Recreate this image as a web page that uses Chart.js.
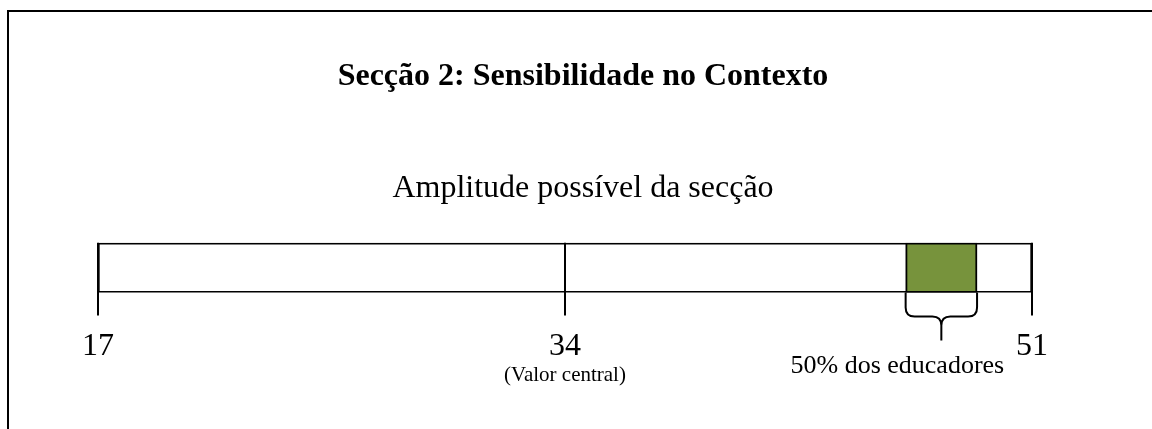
<!DOCTYPE html>
<html lang="pt">
<head>
    <meta charset="UTF-8">
    <title>Secção 2: Sensibilidade no Contexto</title>
    <script src="https://cdn.jsdelivr.net/npm/chart.js"></script>
    <style>
        html, body { margin: 0; padding: 0; background: #fff; overflow: hidden; }
        #frame {
            position: absolute; left: 7px; top: 10px; width: 2000px; height: 1000px;
            border-left: 2px solid #000; border-top: 2px solid #000;
        }
        #wrap { position: absolute; left: 0; top: 0; width: 1152px; height: 429px; }
    </style>
</head>
<body>
    <div id="frame"></div>
    <div id="wrap">
        <canvas id="myChart" width="1152" height="429"></canvas>
    </div>
    <script>
        // valores da escala
        const tickValues = [17, 34, 51];
        const rangeMin = 17;
        const rangeMax = 51;
        const centralValue = 34;
        const fullRange = [17, 51];
        const educatorsRange = [46.4, 49];   // 50% dos educadores

        const serif = "'Liberation Serif', 'Times New Roman', serif";

        // texto extra + chaveta por baixo da caixa verde
        const annotations = {
            id: 'annotations',
            afterDraw(chart) {
                const ctx = chart.ctx;
                const xs = chart.scales.x;
                const bar = chart.getDatasetMeta(1).data[0];
                const xL = Math.min(bar.x, bar.base);
                const xR = Math.max(bar.x, bar.base);
                const xM = (xL + xR) / 2;
                const yB = bar.y + bar.height / 2;
                const yH = yB + 24;
                const tip = yB + 48;
                const r = 9;

                ctx.save();
                ctx.strokeStyle = '#000';
                ctx.lineWidth = 2;
                ctx.beginPath();
                ctx.moveTo(xL, yB);
                ctx.lineTo(xL, yH - r);
                ctx.quadraticCurveTo(xL, yH, xL + r, yH);
                ctx.lineTo(xM - r, yH);
                ctx.quadraticCurveTo(xM, yH, xM, yH + r);
                ctx.lineTo(xM, tip);
                ctx.moveTo(xR, yB);
                ctx.lineTo(xR, yH - r);
                ctx.quadraticCurveTo(xR, yH, xR - r, yH);
                ctx.lineTo(xM + r, yH);
                ctx.quadraticCurveTo(xM, yH, xM, yH + r);
                ctx.stroke();

                ctx.fillStyle = '#000';
                ctx.textAlign = 'center';
                ctx.textBaseline = 'alphabetic';
                ctx.font = '21px ' + serif;
                ctx.fillText('(Valor central)', xs.getPixelForValue(centralValue), 381);
                ctx.font = '26px ' + serif;
                ctx.fillText('50% dos educadores', xM - 44, 373);
                ctx.restore();
            }
        };

        const ctx = document.getElementById('myChart').getContext('2d');
        const myChart = new Chart(ctx, {
            type: 'bar',
            data: {
                labels: ['Amplitude'],
                datasets: [
                    { label: 'Amplitude possível', data: [fullRange], backgroundColor: '#fff', order: 2 },
                    { label: '50% dos educadores', data: [educatorsRange], backgroundColor: '#77933c', order: 1 }
                ]
            },
            options: {
                indexAxis: 'y',
                responsive: false,
                animation: false,
                events: [],
                layout: {
                    padding: { left: 98, right: 84, top: 20, bottom: 51 }
                },
                datasets: {
                    bar: {
                        grouped: false,
                        barPercentage: 1,
                        categoryPercentage: 1,
                        borderColor: '#000',
                        borderWidth: 2,
                        borderSkipped: false
                    }
                },
                plugins: {
                    legend: { display: false },
                    tooltip: { enabled: false },
                    title: {
                        display: true,
                        text: 'Secção 2: Sensibilidade no Contexto',
                        color: '#000',
                        font: { family: serif, size: 32, weight: 'bold' },
                        padding: { top: 38, bottom: 0 }
                    },
                    subtitle: {
                        display: true,
                        text: 'Amplitude possível da secção',
                        color: '#000',
                        font: { family: serif, size: 32 },
                        padding: { top: 73, bottom: 35 }
                    }
                },
                scales: {
                    x: {
                        type: 'linear',
                        min: rangeMin,
                        max: rangeMax,
                        afterBuildTicks: scale => {
                            scale.ticks = tickValues.map(v => ({ value: v }));
                        },
                        border: { display: false },
                        grid: {
                            z: 1,
                            drawOnChartArea: true,
                            drawTicks: true,
                            tickLength: 23,
                            color: '#000',
                            lineWidth: 2
                        },
                        ticks: {
                            color: '#000',
                            padding: 12,
                            maxRotation: 0,
                            font: { family: serif, size: 32 }
                        }
                    },
                    y: {
                        position: 'right',
                        ticks: { display: false },
                        grid: { display: false },
                        border: { display: false },
                        afterFit: scale => { scale.width = 36; }
                    }
                }
            },
            plugins: [annotations]
        });
    </script>
</body>
</html>
